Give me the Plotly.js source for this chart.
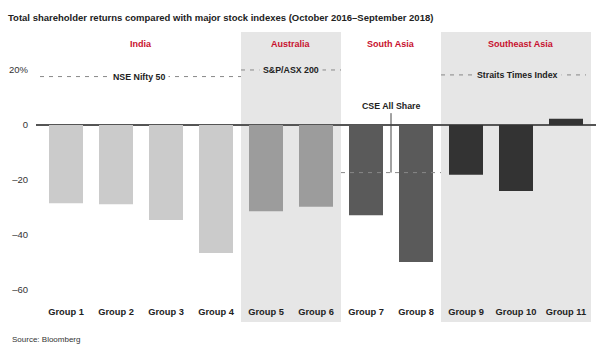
<!DOCTYPE html>
<html><head><meta charset="utf-8">
<script src="https://cdn.plot.ly/plotly-3.0.1.min.js"></script>
<style>body{margin:0;background:#fff}#c{width:600px;height:360px}</style>
</head><body><div id="c"></div>
<script>
// ---- data ----
const groups = ['Group 1','Group 2','Group 3','Group 4','Group 5','Group 6','Group 7','Group 8','Group 9','Group 10','Group 11'];
const tsr = [-28.4, -28.8, -34.5, -46.5, -31.3, -29.7, -32.8, -49.8, -18.1, -24.0, 2.3];
const groupRegion = [0,0,0,0,1,1,2,2,3,3,3];
const regions = ['India','Australia','South Asia','Southeast Asia'];
const indexNames = ['NSE Nifty 50','S&P/ASX 200','CSE All Share','Straits Times Index'];
const indexValues = [17.6, 20.0, -17.3, 18.2];
const yTickVals = [-60,-40,-20,0,20];
const yTickText = ['\u201360','\u201340','\u201320','0','20%'];

// ---- style ----
const regionColors = ['#cbcbcb','#9c9c9c','#5a5a5a','#333333'];
const shaded = [false,true,false,true];
const red = '#c8102e';
const font = 'Liberation Sans, Arial, sans-serif';

// region spans in category units
const spans = regions.map((r,i)=>{
  const idx = groupRegion.map((g,k)=>g===i?k:-1).filter(k=>k>=0);
  return [idx[0]-0.5, idx[idx.length-1]+0.5];
});
spans[0][0] = -0.6;
const regionLabelX = [1.5, 4.5, 6.5, 9.1];

const shapes = [];
const annotations = [];
regions.forEach((r,i)=>{
  const [a,b] = spans[i];
  if (shaded[i]) shapes.push({type:'rect', xref:'x', yref:'paper', x0:a, x1:b, y0:-0.082, y1:1,
    fillcolor:'#e6e6e6', line:{width:0}, layer:'below'});
  annotations.push({xref:'x', yref:'y', x:regionLabelX[i], y:29.5, text:'<b>'+r+'</b>', showarrow:false,
    font:{family:font, size:9, color:red}});
});
// index lines
const dash = '4px,5px';
const idxSpan = [[-0.52,3.5],[3.5,5.5],[5.5,7.5],[7.5,10.4]];
const labelX = [1.45, 4.5, 6.5, 9.02];
idxSpan.forEach((s,i)=>{
  shapes.push({type:'line', xref:'x', yref:'y', x0:s[0], x1:s[1], y0:indexValues[i], y1:indexValues[i],
    line:{color:'#888', width:1, dash:dash}});
});
[0,1,3].forEach(i=>{
  annotations.push({xref:'x', yref:'y', x:labelX[i], y:indexValues[i], text:'<b>'+indexNames[i]+'</b>',
    showarrow:false, bgcolor: shaded[i] ? '#e6e6e6' : '#ffffff', borderpad:3,
    font:{family:font, size:8.8, color:'#222'}});
});
// CSE with vertical connector
shapes.push({type:'line', xref:'x', yref:'y', x0:labelX[2], x1:labelX[2], y0:indexValues[2], y1:4.3,
  line:{color:'#444', width:1}});
annotations.push({xref:'x', yref:'y', x:labelX[2], y:6.9, text:'<b>'+indexNames[2]+'</b>', showarrow:false,
  font:{family:font, size:8.8, color:'#222'}});
// source
annotations.push({xref:'paper', yref:'paper', x:-26/560, y:-39/268, xanchor:'left', yanchor:'middle',
  text:'Source: Bloomberg', showarrow:false, font:{family:font, size:8, color:'#333'}});

Plotly.newPlot('c', [{
  type:'bar', x:groups, y:tsr, width:0.68,
  marker:{color:groupRegion.map(g=>regionColors[g]), line:{width:0}},
  hoverinfo:'skip'
}], {
  width:600, height:360,
  margin:{l:36, r:4, t:32, b:60},
  paper_bgcolor:'#fff', plot_bgcolor:'rgba(0,0,0,0)',
  title:{text:'<b>Total shareholder returns compared with major stock indexes (October 2016\u2013September 2018)</b>',
    xref:'container', yref:'container', x:8/600, xanchor:'left', y:1-18/360, yanchor:'middle',
    font:{family:font, size:9.5, color:'#222'}},
  showlegend:false,
  xaxis:{range:[-0.6,10.6], showgrid:false, zeroline:false, showline:false, ticks:'', ticklabelstandoff:5,
    tickfont:{family:font, size:9.3, color:'#222', weight:'bold'}, fixedrange:true},
  yaxis:{range:[-63.6,33.8], tickvals:yTickVals, ticktext:yTickText, showgrid:false,
    zeroline:true, zerolinecolor:'#555', zerolinewidth:1.5, showline:false, ticks:'', ticklabelstandoff:7,
    tickfont:{family:font, size:9.5, color:'#333'}, fixedrange:true},
  shapes:shapes, annotations:annotations
}, {displayModeBar:false, staticPlot:true});
</script></body></html>
